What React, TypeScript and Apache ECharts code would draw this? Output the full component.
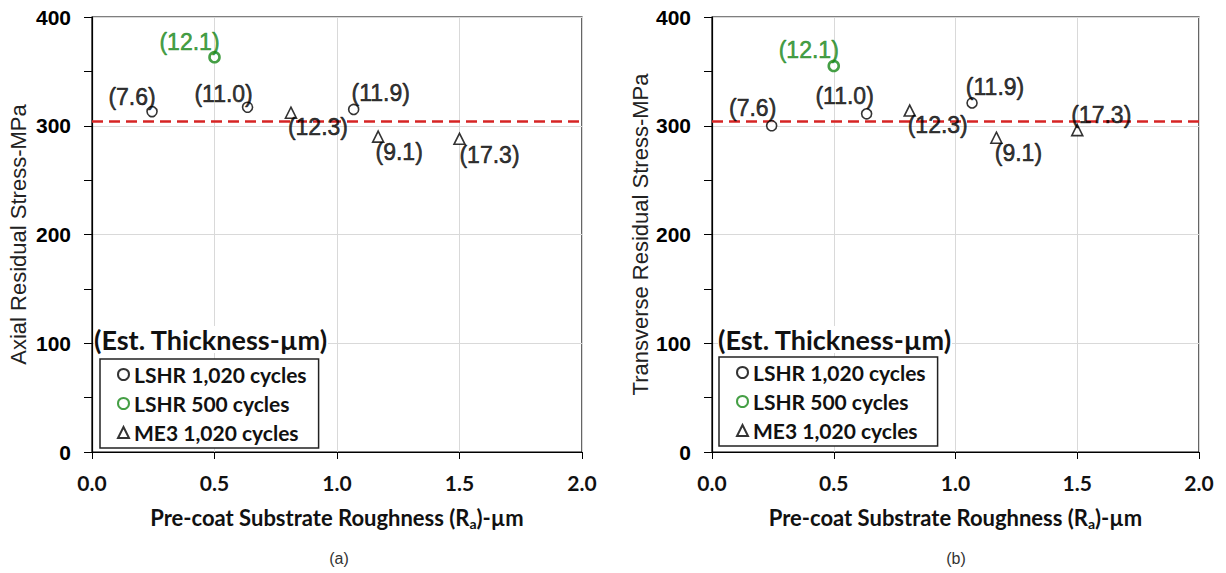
import React, { useEffect, useRef } from "react";
import * as echarts from "echarts";

// ---------- data ----------
const xTicks = [0, 0.5, 1.0, 1.5, 2.0];
const yTicks = [0, 100, 200, 300, 400];

const seriesNames = ["LSHR 1,020 cycles", "LSHR 500 cycles", "ME3 1,020 cycles"];

// roughness Ra (µm)
const roughLSHR1020 = [0.245, 0.635, 1.068];
const roughLSHR500 = [0.5];
const roughME3 = [0.812, 1.168, 1.5];

// estimated coating thickness (µm) — shown as point labels
const thickLSHR1020 = [7.6, 11.0, 11.9];
const thickLSHR500 = [12.1];
const thickME3 = [12.3, 9.1, 17.3];

// (a) axial residual stress (MPa)
const axialLSHR1020 = [313, 317, 315];
const axialLSHR500 = [363];
const axialME3 = [312, 290, 288];

// (b) transverse residual stress (MPa)
const transLSHR1020 = [300, 311, 321];
const transLSHR500 = [355];
const transME3 = [314, 289, 296];

// reference (dashed) stress level
const refAxial = 304;
const refTransverse = 304;

// ---------- layout (label offsets in px relative to each marker) ----------
const offA = {
  l1020: [[-20, -15], [-24, -13], [27, -16]],
  l500: [[-25, -15]],
  me3: [[27, 14], [21, 15], [30, 16]],
};
const offB = {
  l1020: [[-19, -18], [-22, -18], [23, -16]],
  l500: [[-25, -16]],
  me3: [[28, 14], [22, 15], [24, -15]],
};

const GREEN = "#178717";
const RED = "#d62424";
const ARIAL = "'Liberation Sans', Arial, sans-serif";
const CAL = "Lato, 'Noto Sans', sans-serif";

function makeSeries(
  name: string,
  xs: number[],
  ys: number[],
  ts: number[],
  offs: number[][],
  idx: number,
  kind: "circle" | "green" | "triangle",
  ref?: number
) {
  const color = kind === "green" ? GREEN : "#000";
  const s: any = {
    type: "scatter",
    name,
    xAxisIndex: idx,
    yAxisIndex: idx,
    symbol: kind === "triangle" ? "triangle" : "circle",
    symbolSize: kind === "triangle" ? 11 : 10,
    itemStyle: {
      color: "#fff",
      borderColor: color,
      borderWidth: kind === "green" ? 2.6 : 1.6,
    },
    z: 5,
    label: {
      show: true,
      position: "inside",
      color: color,
      textBorderWidth: 0.6,
      textBorderColor: color,
      fontFamily: ARIAL,
      fontSize: 23,
      formatter: (p: any) => `(${ts[p.dataIndex].toFixed(1)})`,
    },
    data: xs.map((x, i) => ({
      value: [x, ys[i]],
      label: { offset: offs[i] },
    })),
  };
  if (ref !== undefined) {
    s.markLine = {
      silent: true,
      symbol: ["none", "none"],
      label: { show: false },
      lineStyle: { color: RED, type: [11, 6], width: 2.5 },
      z: 2,
      data: [{ yAxis: ref }],
    };
  }
  return s;
}

function xAxisCfg(idx: number) {
  return {
    type: "value",
    gridIndex: idx,
    min: xTicks[0],
    max: xTicks[xTicks.length - 1],
    interval: 0.5,
    axisLine: { show: true, lineStyle: { color: "#000", width: 1.2 } },
    axisTick: { show: true, length: 7, lineStyle: { color: "#000" } },
    axisLabel: {
      margin: 20,
      color: "#111",
      fontFamily: CAL,
      fontWeight: "bold",
      fontSize: 21,
      formatter: (v: number) => v.toFixed(1),
    },
    splitLine: { show: true, lineStyle: { color: "#d9d9d9", width: 1 } },
    name: "Pre-coat Substrate Roughness (R{sub|a})-µm",
    nameLocation: "middle",
    nameGap: 52,
    nameTextStyle: {
      color: "#111",
      fontFamily: CAL,
      fontWeight: "bold",
      fontSize: 22,
      rich: {
        sub: {
          fontFamily: CAL,
          fontWeight: "bold",
          fontSize: 14,
          color: "#111",
          padding: [12, 0, 0, 0],
        },
      },
    },
  };
}

function yAxisCfg(idx: number, name: string, gap: number) {
  return {
    type: "value",
    gridIndex: idx,
    min: yTicks[0],
    max: yTicks[yTicks.length - 1],
    interval: 100,
    axisLine: { show: true, lineStyle: { color: "#000", width: 1.2 } },
    axisTick: { show: true, length: 8, lineStyle: { color: "#000" } },
    minorTick: { show: true, splitNumber: 2, length: 8, lineStyle: { color: "#000" } },
    minorSplitLine: { show: false },
    axisLabel: {
      margin: 21,
      color: "#000",
      fontFamily: ARIAL,
      fontWeight: "bold",
      fontSize: 21,
    },
    splitLine: { show: true, lineStyle: { color: "#d9d9d9", width: 1 } },
    name,
    nameLocation: "middle",
    nameGap: gap,
    nameTextStyle: { color: "#222", fontFamily: ARIAL, fontSize: 22 },
  };
}

function legendCfg(left: number, top: number) {
  return {
    show: true,
    data: seriesNames,
    orient: "vertical",
    left,
    top,
    backgroundColor: "#fff",
    borderColor: "#222",
    borderWidth: 1.5,
    padding: [5, 12, 5, 17],
    itemWidth: 11,
    itemHeight: 11,
    itemGap: 8,
    selectedMode: false,
    textStyle: {
      color: "#111",
      fontFamily: CAL,
      fontWeight: "bold",
      fontSize: 21,
      lineHeight: 20,
    },
  };
}

function titleText(left: number) {
  return {
    type: "text",
    left,
    top: 326,
    z: 10,
    style: {
      text: "(Est. Thickness-µm)",
      fontFamily: CAL,
      fontWeight: "bold",
      fontSize: 27,
      fill: "#111",
      backgroundColor: "#fff",
    },
  };
}

export default function App() {
  const ref = useRef<HTMLDivElement>(null);
  useEffect(() => {
    if (!ref.current) return;
    const chart = echarts.init(ref.current, undefined, { renderer: "svg" });
    const option: any = {
      animation: false,
      backgroundColor: "#fff",
      grid: [
        { left: 92, top: 17, width: 490, height: 435, show: true, borderColor: "#000", borderWidth: 1.2, backgroundColor: "transparent" },
        { left: 712, top: 17, width: 487, height: 435, show: true, borderColor: "#000", borderWidth: 1.2, backgroundColor: "transparent" },
      ],
      xAxis: [xAxisCfg(0), xAxisCfg(1)],
      yAxis: [
        yAxisCfg(0, "Axial Residual Stress-MPa", 63),
        yAxisCfg(1, "Transverse Residual Stress-MPa", 61),
      ],
      legend: [legendCfg(100, 359), legendCfg(719, 357)],
      series: [
        makeSeries(seriesNames[0], roughLSHR1020, axialLSHR1020, thickLSHR1020, offA.l1020, 0, "circle", refAxial),
        makeSeries(seriesNames[1], roughLSHR500, axialLSHR500, thickLSHR500, offA.l500, 0, "green"),
        makeSeries(seriesNames[2], roughME3, axialME3, thickME3, offA.me3, 0, "triangle"),
        makeSeries(seriesNames[0], roughLSHR1020, transLSHR1020, thickLSHR1020, offB.l1020, 1, "circle", refTransverse),
        makeSeries(seriesNames[1], roughLSHR500, transLSHR500, thickLSHR500, offB.l500, 1, "green"),
        makeSeries(seriesNames[2], roughME3, transME3, thickME3, offB.me3, 1, "triangle"),
      ],
      graphic: [
        titleText(94),
        titleText(718),
        {
          type: "text",
          x: 339,
          y: 558,
          style: { text: "(a)", fontFamily: ARIAL, fontSize: 16, fill: "#333", align: "center", verticalAlign: "middle" },
        },
        {
          type: "text",
          x: 956,
          y: 558,
          style: { text: "(b)", fontFamily: ARIAL, fontSize: 16, fill: "#333", align: "center", verticalAlign: "middle" },
        },
      ],
    };
    chart.setOption(option);
    return () => chart.dispose();
  }, []);
  return (
    <div
      ref={ref}
      style={{ position: "fixed", left: 0, top: 0, width: 1226, height: 573, background: "#fff" }}
    />
  );
}
